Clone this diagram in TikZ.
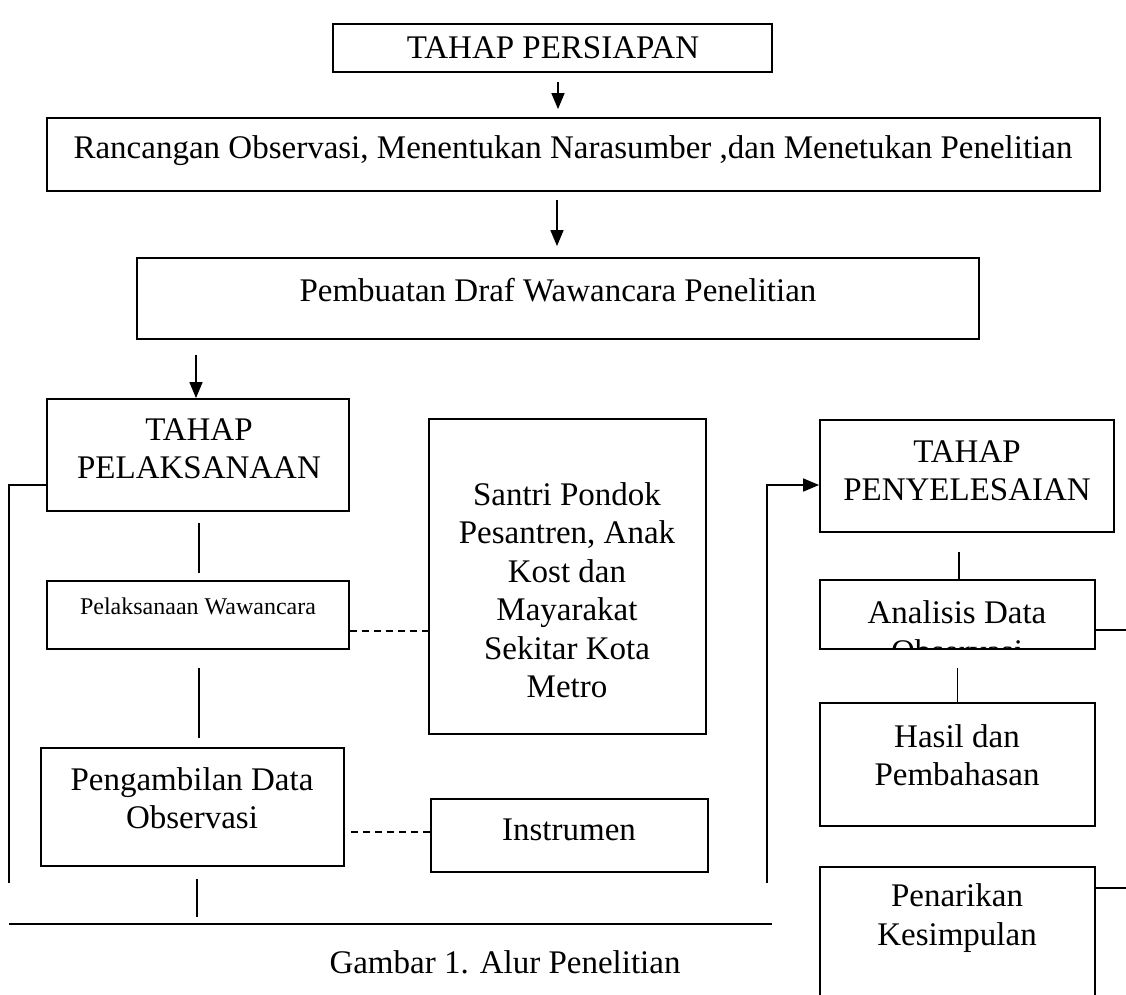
\documentclass[tikz,border=0pt]{standalone}
\usepackage{fontspec}
\setmainfont{Liberation Serif}
\usetikzlibrary{arrows.meta}
\begin{document}
\begin{tikzpicture}[x=1pt,y=-1pt,
  box/.style={draw, line width=1.8pt, inner sep=0pt, rectangle},
  txt/.style={font=\fontsize{33}{38.5}\selectfont, align=center, inner sep=0pt},
  small/.style={font=\fontsize{24}{28}\selectfont, inner sep=0pt},
  conn/.style={line width=1.5pt},
  arr/.style={line width=1.5pt, -{Triangle[length=16pt,width=13pt]}},
  dsh/.style={line width=1.3pt, dash pattern=on 7pt off 5pt}]
\useasboundingbox (0,0) rectangle (1126,994);
\clip (0,0) rectangle (1126,994);

% boxes
\node[box, minimum width=439pt, minimum height=48pt]  (prep)  at (552.5,48)  {};
\node[box, minimum width=1053pt, minimum height=73pt] (ranc)  at (573.5,154.5) {};
\node[box, minimum width=842pt, minimum height=81pt]  (draf)  at (558,298.5) {};
\node[box, minimum width=302pt, minimum height=112pt] (pel)   at (198,455)   {};
\node[box, minimum width=302pt, minimum height=68pt]  (waw)   at (198,615)   {};
\node[box, minimum width=277pt, minimum height=315pt] (santri) at (567.5,576.5) {};
\node[box, minimum width=303pt, minimum height=118pt] (peng)  at (192.5,807) {};
\node[box, minimum width=277pt, minimum height=73pt]  (instr) at (569.5,835.5) {};
\node[box, minimum width=294pt, minimum height=112pt] (peny)  at (967,476)   {};
\node[box, minimum width=275pt, minimum height=69pt]  (anal)  at (957.5,614.5) {};
\node[box, minimum width=275pt, minimum height=123pt] (hasil) at (957.5,764.5) {};
\node[box, minimum width=275pt, minimum height=150pt] (penar) at (957.5,942) {};

% texts
\node[txt] (tprep)   at (553,48)  {TAHAP PERSIAPAN};
\node[txt] (tranc)   at (573,151) {Rancangan Observasi, Menentukan Narasumber ,dan Menetukan Penelitian};
\node[txt] (tdraf)   at (558,290) {Pembuatan Draf Wawancara Penelitian};
\node[txt] (tpel)    at (199,449) {TAHAP\\PELAKSANAAN};
\node[small] (twaw)  at (198,606) {Pelaksanaan Wawancara};
\node[txt] (tsantri) at (567,590) {Santri Pondok\\Pesantren, Anak\\Kost dan\\Mayarakat\\Sekitar Kota\\Metro};
\node[txt] (tpeng)   at (192,798) {Pengambilan Data\\Observasi};
\node[txt] (tinstr)  at (569,830) {Instrumen};
\node[txt] (tpeny)   at (967,471) {TAHAP\\PENYELESAIAN};
\begin{scope}
  \clip (anal.north west) rectangle (anal.south east);
  \node[txt] (tanal) at (957,631.5) {Analisis Data\\Observasi};
\end{scope}
\node[txt] (thasil)  at (957,755) {Hasil dan\\Pembahasan};
\node[txt] (tpenar)  at (957,918) {Penarikan\\Kesimpulan};
\node[txt] (cap)     at (505,962) {Gambar 1. Alur Penelitian};

% free ends
\coordinate (lend) at (9,883);
\coordinate (rend) at (767,883);
\coordinate (hl1) at (9,924);
\coordinate (hl2) at (772,924);
\coordinate (pend) at (197,917);
\coordinate (aout) at (1130,630);
\coordinate (pout) at (1130,888);

% arrows
\draw[arr, shorten <=9pt, shorten >=8pt] ([xshift=5.5pt]prep.south) -- ([xshift=5.5pt]prep.south |- ranc.north);
\draw[arr, shorten <=8pt, shorten >=11pt] ([xshift=-1pt]draf.north |- ranc.south) -- ([xshift=-1pt]draf.north);
\draw[arr, shorten <=15pt] ([xshift=-2pt]pel.north |- draf.south) -- ([xshift=-2pt]pel.north);

% left column
\draw[conn, shorten <=11pt, shorten >=7pt] ([xshift=1pt]pel.south) -- ([xshift=1pt]waw.north);
\draw[conn, shorten <=18pt, shorten >=9pt] ([xshift=1pt]waw.south) -- ([xshift=1pt]waw.south |- peng.north);
\draw[conn, shorten <=12pt] ([xshift=4.5pt]peng.south) -- (pend);
\draw[conn] ([yshift=-30pt]pel.west) -| (lend);
\draw[conn] (hl1) -- (hl2);

% dashed links
\draw[dsh] ([yshift=-16pt]waw.east) -- ([yshift=-16pt]waw.east -| santri.west);
\draw[dsh, shorten <=6pt] ([yshift=-25pt]peng.east) -- ([yshift=-25pt]peng.east -| instr.west);

% right column
\draw[arr] (rend) |- ([yshift=-9pt]peny.west);
\draw[conn, shorten <=19pt] ([xshift=-8pt]peny.south) -- ([xshift=-8pt]peny.south |- anal.north);
\draw[conn, shorten <=18pt] (anal.south) -- (hasil.north);
\draw[conn] ([yshift=-15.5pt]anal.east) -- (aout);
\draw[conn] (penar.east |- pout) -- (pout);
\end{tikzpicture}
\end{document}
